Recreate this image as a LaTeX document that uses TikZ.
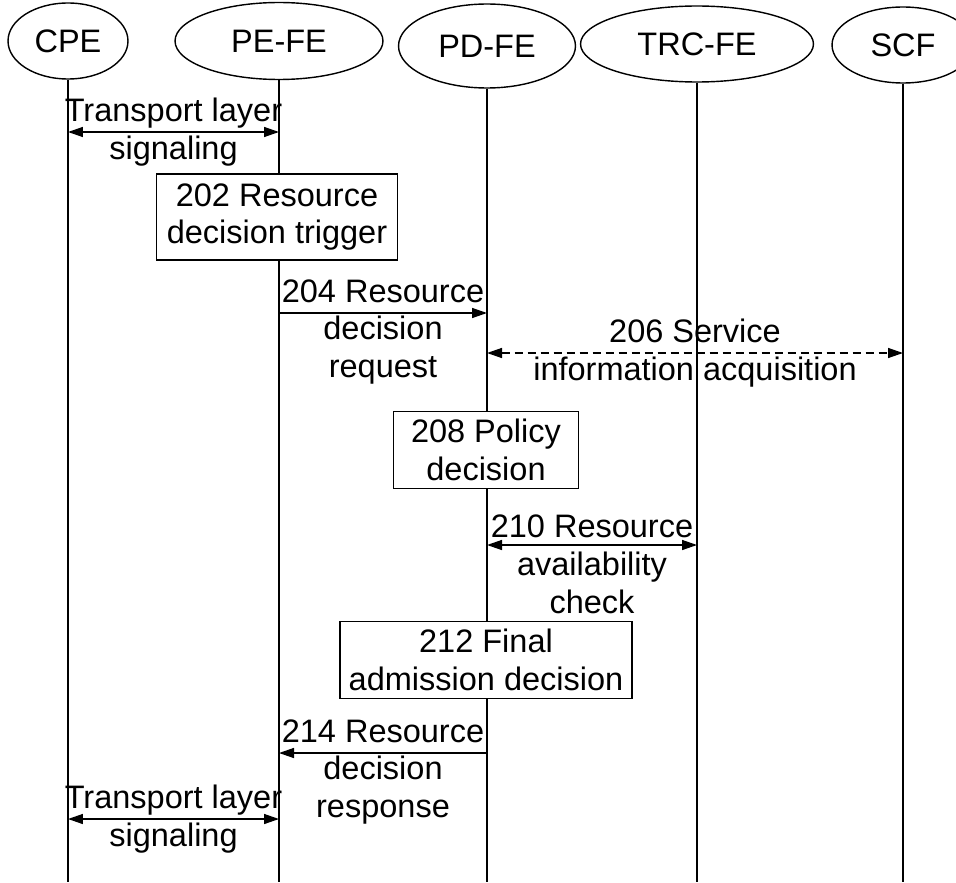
\documentclass[tikz,border=0pt]{standalone}
\usepackage{fontspec}
\setmainfont{Liberation Sans}
\usetikzlibrary{arrows.meta,shapes.geometric}

\begin{document}
\begin{tikzpicture}[x=0.02cm,y=-0.02cm,line width=0.8pt,
  >={Triangle[length=0.3cm,width=0.2cm]},
  every node/.style={font=\fontsize{18.5}{21.6}\selectfont},
  entity/.style={shape=ellipse,draw=black,inner sep=0pt},
  action/.style={shape=rectangle,draw=black,fill=white,align=center,inner sep=2pt},
  lbl/.style={align=center,inner sep=0pt}]
\useasboundingbox (0,0) rectangle (956,882);
\node[entity,minimum width=2.4cm,minimum height=1.52cm] (cpe) at (68,41) {CPE};
\node[entity,minimum width=4.16cm,minimum height=1.54cm] (pefe) at (279,41) {PE-FE};
\node[entity,minimum width=3.54cm,minimum height=1.68cm] (pdfe) at (487,46) {PD-FE};
\node[entity,minimum width=4.66cm,minimum height=1.52cm] (trcfe) at (697,44) {TRC-FE};
\node[entity,minimum width=2.84cm,minimum height=1.52cm] (scf) at (903,45) {SCF};
% lifelines
\foreach \e in {cpe,pefe,pdfe,trcfe,scf}
  \draw (\e.south) -- (\e.south |- 0,882);
\draw[<->] (cpe |- 0,132) -- node[lbl] {Transport layer\\signaling} (pefe |- 0,132);
\node[action,minimum width=4.82cm,minimum height=1.72cm] (trigger) at (277,217) {202 Resource\\decision trigger};
\draw[->] (pefe |- 0,313) -- node[lbl,yshift=-0.38cm] {204 Resource\\decision\\request} (pdfe |- 0,313);
\draw[<->,dash pattern=on 0.16cm off 0.1cm] (pdfe |- 0,353) -- node[lbl] {206 Service\\information acquisition} (scf |- 0,353);
\node[action,minimum width=3.7cm,minimum height=1.54cm] (policy) at (486,450) {208 Policy\\decision};
\draw[<->] (pdfe |- 0,545) -- node[lbl,yshift=-0.38cm] {210 Resource\\availability\\check} (trcfe |- 0,545);
\node[action,minimum width=5.84cm,minimum height=1.54cm] (final) at (486,660) {212 Final\\admission decision};
\draw[->] (pdfe |- 0,753) -- node[lbl,yshift=-0.38cm] {214 Resource\\decision\\response} (pefe |- 0,753);
\draw[<->] (cpe |- 0,819) -- node[lbl] {Transport layer\\signaling} (pefe |- 0,819);
\end{tikzpicture}
\end{document}
